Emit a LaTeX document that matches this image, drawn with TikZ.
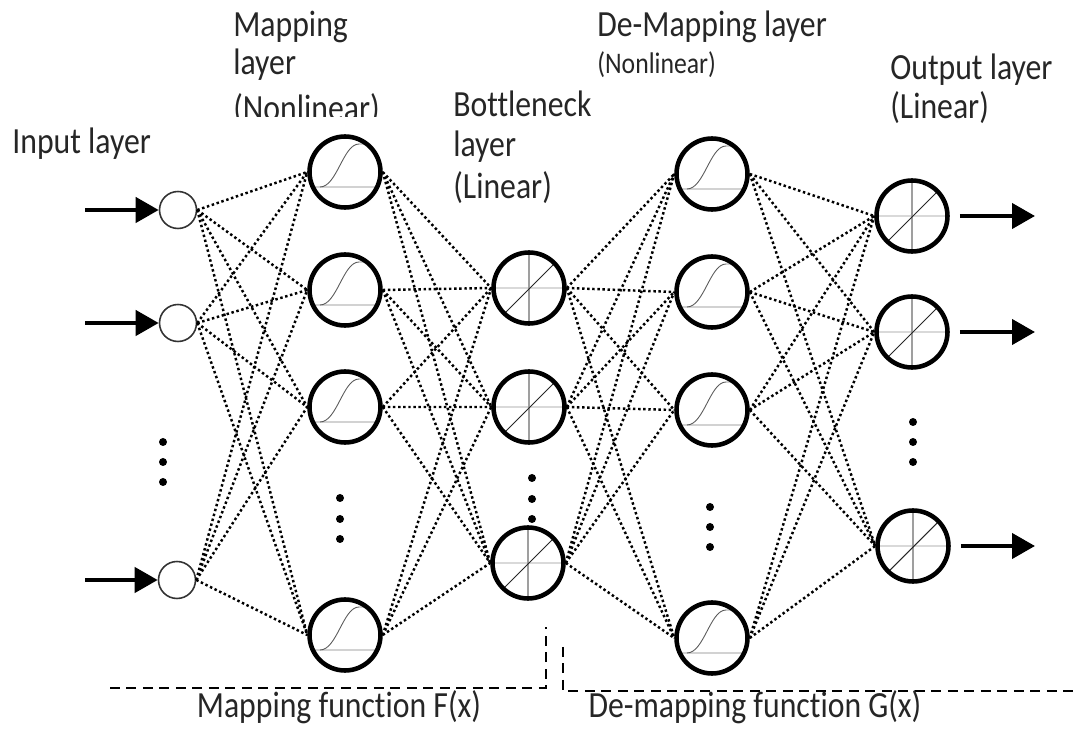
\documentclass[tikz,border=0pt]{standalone}
\usepackage{fontspec}
\newfontfamily\lblfont{Carlito}[FakeStretch=0.86, Ligatures=NoCommon]
\usetikzlibrary{arrows.meta}

\begin{document}
\begin{tikzpicture}[x=0.02cm, y=0.02cm]
		\tikzstyle{every node}+=[inner sep=0pt]
		\tikzstyle{lbl}=[font=\lblfont\fontsize{21}{21}\selectfont, text=black!85, anchor=base west]
		\tikzstyle{inp}=[circle, draw=black!80, line width=0.9pt, minimum size=0.74cm]
		\tikzstyle{unit}=[circle, draw=black, line width=2.6pt, minimum size=1.42cm]
		\tikzstyle{sig}=[unit, path picture={
			\draw [gray!35, line width=0.8pt, shift={(path picture bounding box.center)}] (-40,-15) -- (40,-15) (14,28) -- (40,28);
			\draw [black!65, line width=0.5pt, shift={(path picture bounding box.center)}] (-25,-15) .. controls (-8,-15) and (-2,28) .. (14,28);
		}]
		\tikzstyle{lin}=[unit, path picture={
			\draw [gray!30, line width=1.2pt, shift={(path picture bounding box.center)}] (-40,0) -- (40,0);
			\draw [gray!75, line width=0.6pt, shift={(path picture bounding box.center)}] (0,-40) -- (0,40);
			\draw [black!85, line width=0.6pt, shift={(path picture bounding box.center)}] (-24,-25) -- (24,23);
		}]
		\tikzstyle{link}=[line width=1.4pt, dash pattern=on 1.4pt off 1.5pt]
		\tikzstyle{arr}=[line width=2.4pt, -{Triangle[length=0.46cm, width=0.5cm]}]
		\tikzstyle{split}=[line width=1.5pt, dash pattern=on 0.2cm off 0.13cm]
		\useasboundingbox (0,0) rectangle (1076,-729);
		% layer titles
		\node [lbl] (tin) at (12,-154) {Input layer};
		\begin{scope}
			\clip (200,0) rectangle (440,-117);
			\node [lbl] (tmap1) at (233,-37) {Mapping};
			\node [lbl] (tmap2) at (233,-75) {layer};
			\node [lbl] (tmap3) at (233,-121) {(Nonlinear)};
		\end{scope}
		\node [lbl] (tbot1) at (453,-117) {Bottleneck};
		\node [lbl] (tbot2) at (453,-157) {layer};
		\node [lbl] (tbot3) at (453,-199) {(Linear)};
		\node [lbl] (tdem1) at (597,-37) {De-Mapping layer};
		\node [lbl, font=\lblfont\fontsize{17}{17}\selectfont] (tdem2) at (597,-74) {(Nonlinear)};
		\node [lbl] (tout1) at (890,-80) {Output layer};
		\node [lbl] (tout2) at (890,-119) {(Linear)};
		% input layer
		\node [inp] (i1) at (178,-210) {};
		\node [inp] (i2) at (178,-323) {};
		\node [inp] (i3) at (177,-580) {};
		\fill (163,-442) circle (0.08cm) (163,-462) circle (0.08cm) (163,-482) circle (0.08cm);
		% mapping layer
		\node [sig] (m1) at (345,-172) {};
		\node [sig] (m2) at (345,-290) {};
		\node [sig] (m3) at (345,-407) {};
		\node [sig] (m4) at (345,-635) {};
		\fill (340,-498) circle (0.08cm) (340,-519) circle (0.08cm) (340,-539) circle (0.08cm);
		% bottleneck layer
		\node [lin] (b1) at (529,-288) {};
		\node [lin] (b2) at (529,-407) {};
		\node [lin] (b3) at (528,-563) {};
		\fill (532,-478) circle (0.08cm) (532,-499) circle (0.08cm) (532,-519) circle (0.08cm);
		% de-mapping layer
		\node [sig] (d1) at (712,-174) {};
		\node [sig] (d2) at (712,-292) {};
		\node [sig] (d3) at (712,-410) {};
		\node [sig] (d4) at (712,-638) {};
		\fill (710,-507) circle (0.08cm) (710,-527) circle (0.08cm) (710,-547) circle (0.08cm);
		% output layer
		\node [lin] (o1) at (912,-216) {};
		\node [lin] (o2) at (912,-332) {};
		\node [lin] (o3) at (913,-546) {};
		\fill (913,-422) circle (0.08cm) (913,-442) circle (0.08cm) (913,-462) circle (0.08cm);
		% weights
		\draw [link] (i1.east) -- (m1.west) (i1.east) -- (m2.west) (i1.east) -- (m3.west) (i1.east) -- (m4.west);
		\draw [link] (i2.east) -- (m1.west) (i2.east) -- (m2.west) (i2.east) -- (m3.west) (i2.east) -- (m4.west);
		\draw [link] (i3.east) -- (m1.west) (i3.east) -- (m2.west) (i3.east) -- (m3.west) (i3.east) -- (m4.west);
		\draw [link] (m1.east) -- (b1.west) (m1.east) -- (b2.west) (m1.east) -- (b3.west);
		\draw [link] (m2.east) -- (b1.west) (m2.east) -- (b2.west) (m2.east) -- (b3.west);
		\draw [link] (m3.east) -- (b1.west) (m3.east) -- (b2.west) (m3.east) -- (b3.west);
		\draw [link] (m4.east) -- (b1.west) (m4.east) -- (b2.west) (m4.east) -- (b3.west);
		\draw [link] (b1.east) -- (d1.west) (b1.east) -- (d2.west) (b1.east) -- (d3.west) (b1.east) -- (d4.west);
		\draw [link] (b2.east) -- (d1.west) (b2.east) -- (d2.west) (b2.east) -- (d3.west) (b2.east) -- (d4.west);
		\draw [link] (b3.east) -- (d1.west) (b3.east) -- (d2.west) (b3.east) -- (d3.west) (b3.east) -- (d4.west);
		\draw [link] (d1.east) -- (o1.west) (d1.east) -- (o2.west) (d1.east) -- (o3.west);
		\draw [link] (d2.east) -- (o1.west) (d2.east) -- (o2.west) (d2.east) -- (o3.west);
		\draw [link] (d3.east) -- (o1.west) (d3.east) -- (o2.west) (d3.east) -- (o3.west);
		\draw [link] (d4.east) -- (o1.west) (d4.east) -- (o2.west) (d4.east) -- (o3.west);
		% inputs and outputs
		\coordinate (x1) at (85,-210);
		\coordinate (x2) at (85,-323);
		\coordinate (x3) at (85,-580);
		\draw [arr] (x1) -- (i1.west);
		\draw [arr] (x2) -- (i2.west);
		\draw [arr] (x3) -- (i3.west);
		\coordinate (y1) at (1035,-216);
		\coordinate (y2) at (1035,-332);
		\coordinate (y3) at (1035,-546);
		\draw [arr, shorten <=0.2cm] (o1.east) -- (y1);
		\draw [arr, shorten <=0.2cm] (o2.east) -- (y2);
		\draw [arr, shorten <=0.2cm] (o3.east) -- (y3);
		% split between the two functions
		\coordinate (fl) at (110,-688);
		\coordinate (fr) at (546,-688);
		\coordinate (ft) at (546,-627);
		\coordinate (gt) at (563,-647);
		\coordinate (gl) at (563,-691);
		\coordinate (gr) at (1076,-691);
		\draw [split] (fl) -- (fr) -- (ft);
		\draw [split] (gt) -- (gl) -- (gr);
		\node [lbl, anchor=base, font=\lblfont\fontsize{21}{21}\selectfont] (tfmap) at (339,-718) {Mapping function F(x)};
		\node [lbl, anchor=base, font=\lblfont\fontsize{21}{21}\selectfont] (tgmap) at (755,-718) {De-mapping function G(x)};
\end{tikzpicture}
\end{document}
